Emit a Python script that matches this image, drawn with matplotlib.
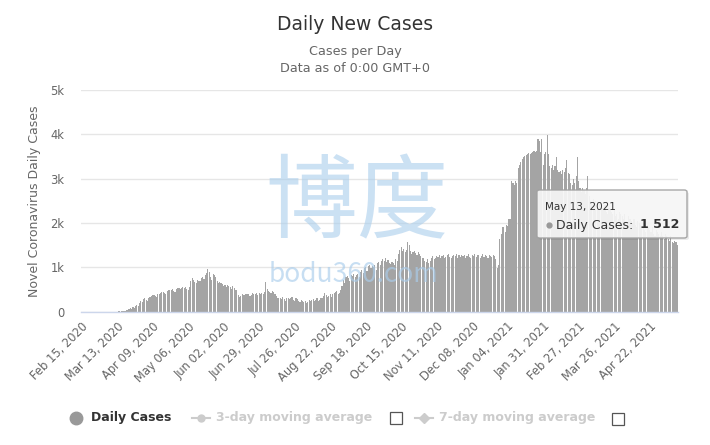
import matplotlib
matplotlib.use('Agg')
import matplotlib.pyplot as plt
from matplotlib.lines import Line2D
from matplotlib.patches import FancyBboxPatch, Rectangle

W, H = 710, 445

# ---- data (daily new cases, Feb 15 2020 .. May 13 2021) ----
feb20 = [0] * 15
mar20 = [0, 0, 0, 0, 0, 0, 0, 0, 0, 0, 1, 2, 3, 5, 8, 10, 15, 20, 25, 30, 40,
         60, 80, 70, 100, 90, 120, 150, 130, 200, 250]
apr20 = [230, 280, 300, 260, 240, 320, 340, 360, 370, 380, 350, 330, 390, 410, 420,
         440, 450, 430, 400, 460, 480, 490, 500, 510, 470, 450, 520, 530, 540, 520]
may20 = [540, 560, 530, 550, 520, 490, 560, 700, 750, 720, 680, 650, 720, 700, 690,
         760, 790, 740, 820, 880, 960, 900, 790, 720, 840, 820, 780, 700, 640, 680, 650]
jun20 = [620, 580, 600, 560, 610, 590, 550, 520, 570, 540, 500, 480, 380, 340, 360,
         390, 380, 370, 400, 410, 390, 350, 380, 420, 410, 400, 430, 380, 420, 410]
jul20 = [430, 400, 450, 680, 520, 470, 450, 420, 460, 440, 400, 360, 320, 300, 310,
         290, 330, 280, 250, 300, 320, 290, 310, 330, 270, 240, 300, 280, 250, 230, 260]
aug20 = [240, 210, 250, 200, 230, 260, 250, 270, 280, 240, 260, 300, 250, 270, 300,
         320, 350, 420, 380, 340, 360, 400, 330, 390, 420, 440, 460, 400, 430, 500, 570]
sep20 = [720, 650, 780, 800, 760, 700, 820, 800, 850, 780, 820, 860, 790, 900, 950,
         880, 980, 1000, 920, 1030, 1060, 980, 1040, 1000, 1060, 950, 1100, 1120, 1050, 1150]
oct20 = [1180, 1150, 1200, 1120, 1160, 1100, 1080, 1120, 1100, 1050, 1180, 1150, 1300,
         1400, 1460, 1380, 1420, 1350, 1400, 1580, 1500, 1380, 1300, 1350, 1380, 1330,
         1280, 1350, 1300, 1260, 1220]
nov20 = [1200, 1150, 1120, 1180, 1100, 1150, 1200, 1250, 1180, 1220, 1260, 1230, 1280,
         1200, 1250, 1290, 1220, 1240, 1270, 1300, 1230, 1200, 1260, 1280, 1250, 1300,
         1220, 1270, 1240, 1280]
dec20 = [1250, 1290, 1220, 1260, 1300, 1240, 1200, 1280, 1250, 1310, 1230, 1270, 1290,
         1220, 1260, 1300, 1240, 1280, 1250, 1200, 1290, 1260, 1230, 1280, 1250, 1180,
         990, 1050, 1630, 1750, 1900]
jan21 = [1900, 1800, 1950, 1940, 2100, 2090, 2950, 2900, 2850, 2950, 2900, 3230, 3300,
         3380, 3450, 3500, 3520, 3540, 3560, 3570, 3550, 3580, 3600, 3620, 3600, 3620,
         3900, 3850, 3600, 3900, 3300]
feb21 = [3560, 3600, 3980, 3550, 3280, 3250, 3300, 3200, 3280, 3500, 3200, 3150, 3180,
         3100, 3200, 3150, 3250, 3430, 3130, 3100, 2900, 2850, 3000, 2900, 3050, 3480,
         2950, 2800]
mar21 = [2700, 2800, 2750, 2650, 2800, 3050, 2600, 2500, 2450, 2550, 2400, 2500, 2350,
         2300, 2450, 2400, 2350, 2300, 2400, 2250, 2200, 2350, 2300, 2250, 2200, 2300,
         2150, 2200, 2100, 2250, 2200]
apr21 = [2150, 2100, 2200, 2050, 2000, 2150, 2100, 2050, 2000, 2100, 1950, 1900, 2050,
         2000, 1950, 1900, 2000, 1850, 1800, 1950, 1900, 1850, 1800, 1900, 1750, 1700,
         1850, 1800, 1750, 1700]
may21 = [1800, 1700, 1650, 1750, 1700, 1650, 1600, 1700, 1580, 1550, 1600, 1580, 1512]

daily_cases = (feb20 + mar20 + apr20 + may20 + jun20 + jul20 + aug20 + sep20 + oct20
               + nov20 + dec20 + jan21 + feb21 + mar21 + apr21 + may21)

tick_labels = ["Feb 15, 2020", "Mar 13, 2020", "Apr 09, 2020", "May 06, 2020",
               "Jun 02, 2020", "Jun 29, 2020", "Jul 26, 2020", "Aug 22, 2020",
               "Sep 18, 2020", "Oct 15, 2020", "Nov 11, 2020", "Dec 08, 2020",
               "Jan 04, 2021", "Jan 31, 2021", "Feb 27, 2021", "Mar 26, 2021",
               "Apr 22, 2021"]
tick_step = 27
y_ticks = [0, 1000, 2000, 3000, 4000, 5000]
y_tick_labels = ["0", "1k", "2k", "3k", "4k", "5k"]
legend_labels = ["Daily Cases", "3-day moving average", "7-day moving average"]
tooltip_date = "May 13, 2021"
tooltip_value = "1 512"

plt.rcParams['font.family'] = ['DejaVu Sans']

def fx(px):
    return px / W

def fy(py):
    return 1 - py / H

fig = plt.figure(figsize=(W / 100, H / 100), dpi=100)
fig.patch.set_facecolor('white')
ax = fig.add_axes([fx(81), fy(311.7), fx(678) - fx(81), fy(90) - fy(311.7)])

n = len(daily_cases)
x = list(range(n))
ax.bar(x, daily_cases, width=0.85, color='#a4a4a4', linewidth=0, zorder=2)

ax.set_xlim(-0.5, n - 0.5)
ax.set_ylim(0, 5000)
ax.set_yticks(y_ticks)
ax.set_yticklabels(y_tick_labels, color='#666666', fontsize=8.3)
ax.set_xticks(list(range(0, n, tick_step))[:len(tick_labels)])
ax.set_xticklabels(tick_labels, rotation=45, ha='right', va='top',
                   rotation_mode='anchor', color='#666666', fontsize=8.3)
ax.tick_params(axis='both', length=0)
ax.tick_params(axis='y', pad=12)
ax.tick_params(axis='x', pad=6)
for s in ['top', 'right', 'left']:
    ax.spines[s].set_visible(False)
ax.spines['bottom'].set_color('#ccd6eb')
ax.spines['bottom'].set_linewidth(1)
ax.grid(axis='y', color='#e6e6e6', linewidth=1, zorder=0)
ax.set_axisbelow(True)

# titles
fig.text(fx(355), fy(24), "Daily New Cases", ha='center', va='center',
         fontsize=13.5, color='#333333')
fig.text(fx(355), fy(52), "Cases per Day", ha='center', va='center',
         fontsize=9.2, color='#666666')
fig.text(fx(355), fy(68), "Data as of 0:00 GMT+0", ha='center', va='center',
         fontsize=9.2, color='#666666')
fig.text(fx(35), fy(201), "Novel Coronavirus Daily Cases", ha='center', va='center',
         rotation=90, fontsize=9, color='#666666')

# watermark
fig.text(fx(357), fy(205), "博度", ha='center', va='center', fontsize=66,
         family=['Noto Sans CJK SC', 'DejaVu Sans'], fontweight='light',
         color='#a9cdec', alpha=0.6, zorder=5)
fig.text(fx(353), fy(274), "bodu360.com", ha='center', va='center', fontsize=19,
         family=['Noto Sans CJK SC', 'DejaVu Sans'], color='#a9cdec', alpha=0.65,
         zorder=5)

# tooltip
shadow = FancyBboxPatch((fx(539), fy(240)), fx(150), fy(0) - fy(48),
                        boxstyle="round,pad=0,rounding_size=0.004",
                        transform=fig.transFigure, facecolor='#000000', alpha=0.08,
                        edgecolor='none', zorder=9)
fig.add_artist(shadow)
tip = FancyBboxPatch((fx(537), fy(238)), fx(150), fy(0) - fy(48),
                     boxstyle="round,pad=0,rounding_size=0.004",
                     transform=fig.transFigure, facecolor='#f7f7f7', alpha=0.92,
                     edgecolor='#a0a0a0', linewidth=1, zorder=10)
fig.add_artist(tip)
fig.text(fx(545), fy(207), tooltip_date, ha='left', va='center', fontsize=7.5,
         color='#333333', zorder=11)
fig.add_artist(Line2D([fx(549)], [fy(225)], marker='o', markersize=3.5,
                      color='#999999', linestyle='none', transform=fig.transFigure,
                      zorder=11))
fig.text(fx(556), fy(225), "Daily Cases: ", ha='left', va='center', fontsize=9,
         color='#333333', zorder=11)
fig.text(fx(640), fy(225), tooltip_value, ha='left', va='center', fontsize=9,
         color='#333333', fontweight='bold', zorder=11)

# legend
ly = fy(418)
fig.add_artist(Line2D([fx(76)], [ly], marker='o', markersize=9, color='#999999',
                      linestyle='none', transform=fig.transFigure))
fig.text(fx(91), ly, legend_labels[0], ha='left', va='center', fontsize=9,
         fontweight='bold', color='#333333')
fig.add_artist(Line2D([fx(192), fx(210)], [ly, ly], color='#cccccc', linewidth=1.5,
                      marker=None, transform=fig.transFigure))
fig.add_artist(Line2D([fx(201)], [ly], marker='o', markersize=5, color='#cccccc',
                      linestyle='none', transform=fig.transFigure))
fig.text(fx(216), ly, legend_labels[1], ha='left', va='center', fontsize=9,
         fontweight='bold', color='#cccccc')
fig.add_artist(Rectangle((fx(390), fy(424)), fx(12), fy(0) - fy(12),
                         transform=fig.transFigure, facecolor='white',
                         edgecolor='#555555', linewidth=0.9))
fig.add_artist(Line2D([fx(415), fx(433)], [ly, ly], color='#cccccc', linewidth=1.5,
                      transform=fig.transFigure))
fig.add_artist(Line2D([fx(424)], [ly], marker='D', markersize=5, color='#cccccc',
                      linestyle='none', transform=fig.transFigure))
fig.text(fx(439), ly, legend_labels[2], ha='left', va='center', fontsize=9,
         fontweight='bold', color='#cccccc')
fig.add_artist(Rectangle((fx(612), fy(425)), fx(12), fy(0) - fy(12),
                         transform=fig.transFigure, facecolor='white',
                         edgecolor='#555555', linewidth=0.9))

fig.savefig('out.png', dpi=100, facecolor='white')
